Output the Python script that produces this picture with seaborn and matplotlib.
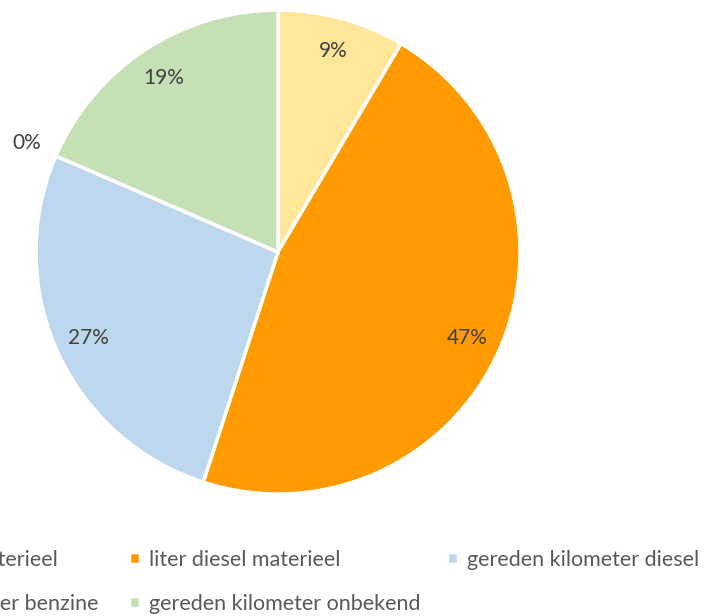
import matplotlib
matplotlib.use("Agg")
import matplotlib.pyplot as plt
import seaborn as sns

# slices clockwise from 12 o'clock
categories = [
    "liter benzine materieel",
    "liter diesel materieel",
    "gereden kilometer diesel",
    "gereden kilometer benzine",
    "gereden kilometer onbekend",
]
values = [8.5, 46.5, 26.5, 0.0, 18.5]
colors = ["#FFE699", "#FF9A00", "#BDD7EE", "#D9D9D9", "#C5E0B4"]

sns.set_style("white")
plt.rcParams["font.family"] = ["Lato", "DejaVu Sans"]

fig = plt.figure(figsize=(7.04, 6.16), dpi=100)
ax = fig.add_axes([36 / 704, 122 / 616, 484 / 704, 484 / 616])

palette = sns.color_palette(colors)
wedges, texts, autotexts = ax.pie(
    values,
    colors=palette,
    startangle=90,
    counterclock=False,
    autopct=lambda p: f"{int(p + 0.5 + 1e-6)}%",
    pctdistance=0.86,
    wedgeprops=dict(edgecolor="white", linewidth=2.5),
    textprops=dict(color="#404040", fontsize=15),
)
ax.set_xlim(-1, 1)
ax.set_ylim(-1, 1)
ax.set_aspect("equal")

# the empty slice gets its label outside the pie
x, y = autotexts[3].get_position()
autotexts[3].set_position((x * 1.13 / 0.86, y * 1.13 / 0.86))

# Excel-style legend: three equal-width columns, wider than the canvas
leg_kw = dict(
    frameon=False,
    fontsize=15.5,
    labelcolor="#595959",
    handlelength=0.5,
    handleheight=0.5,
    handletextpad=0.45,
    borderpad=0,
    borderaxespad=0,
    labelspacing=1.1,
)
top = 1 - 550 / 616
fig.legend([wedges[0], wedges[3]], [categories[0], categories[3]],
           loc="upper right", bbox_to_anchor=(99 / 704, top), **leg_kw)
fig.legend([wedges[1], wedges[4]], [categories[1], categories[4]],
           loc="upper left", bbox_to_anchor=(129 / 704, top), **leg_kw)
fig.legend([wedges[2]], [categories[2]],
           loc="upper left", bbox_to_anchor=(447 / 704, top), **leg_kw)

fig.savefig("out.png", dpi=100)
